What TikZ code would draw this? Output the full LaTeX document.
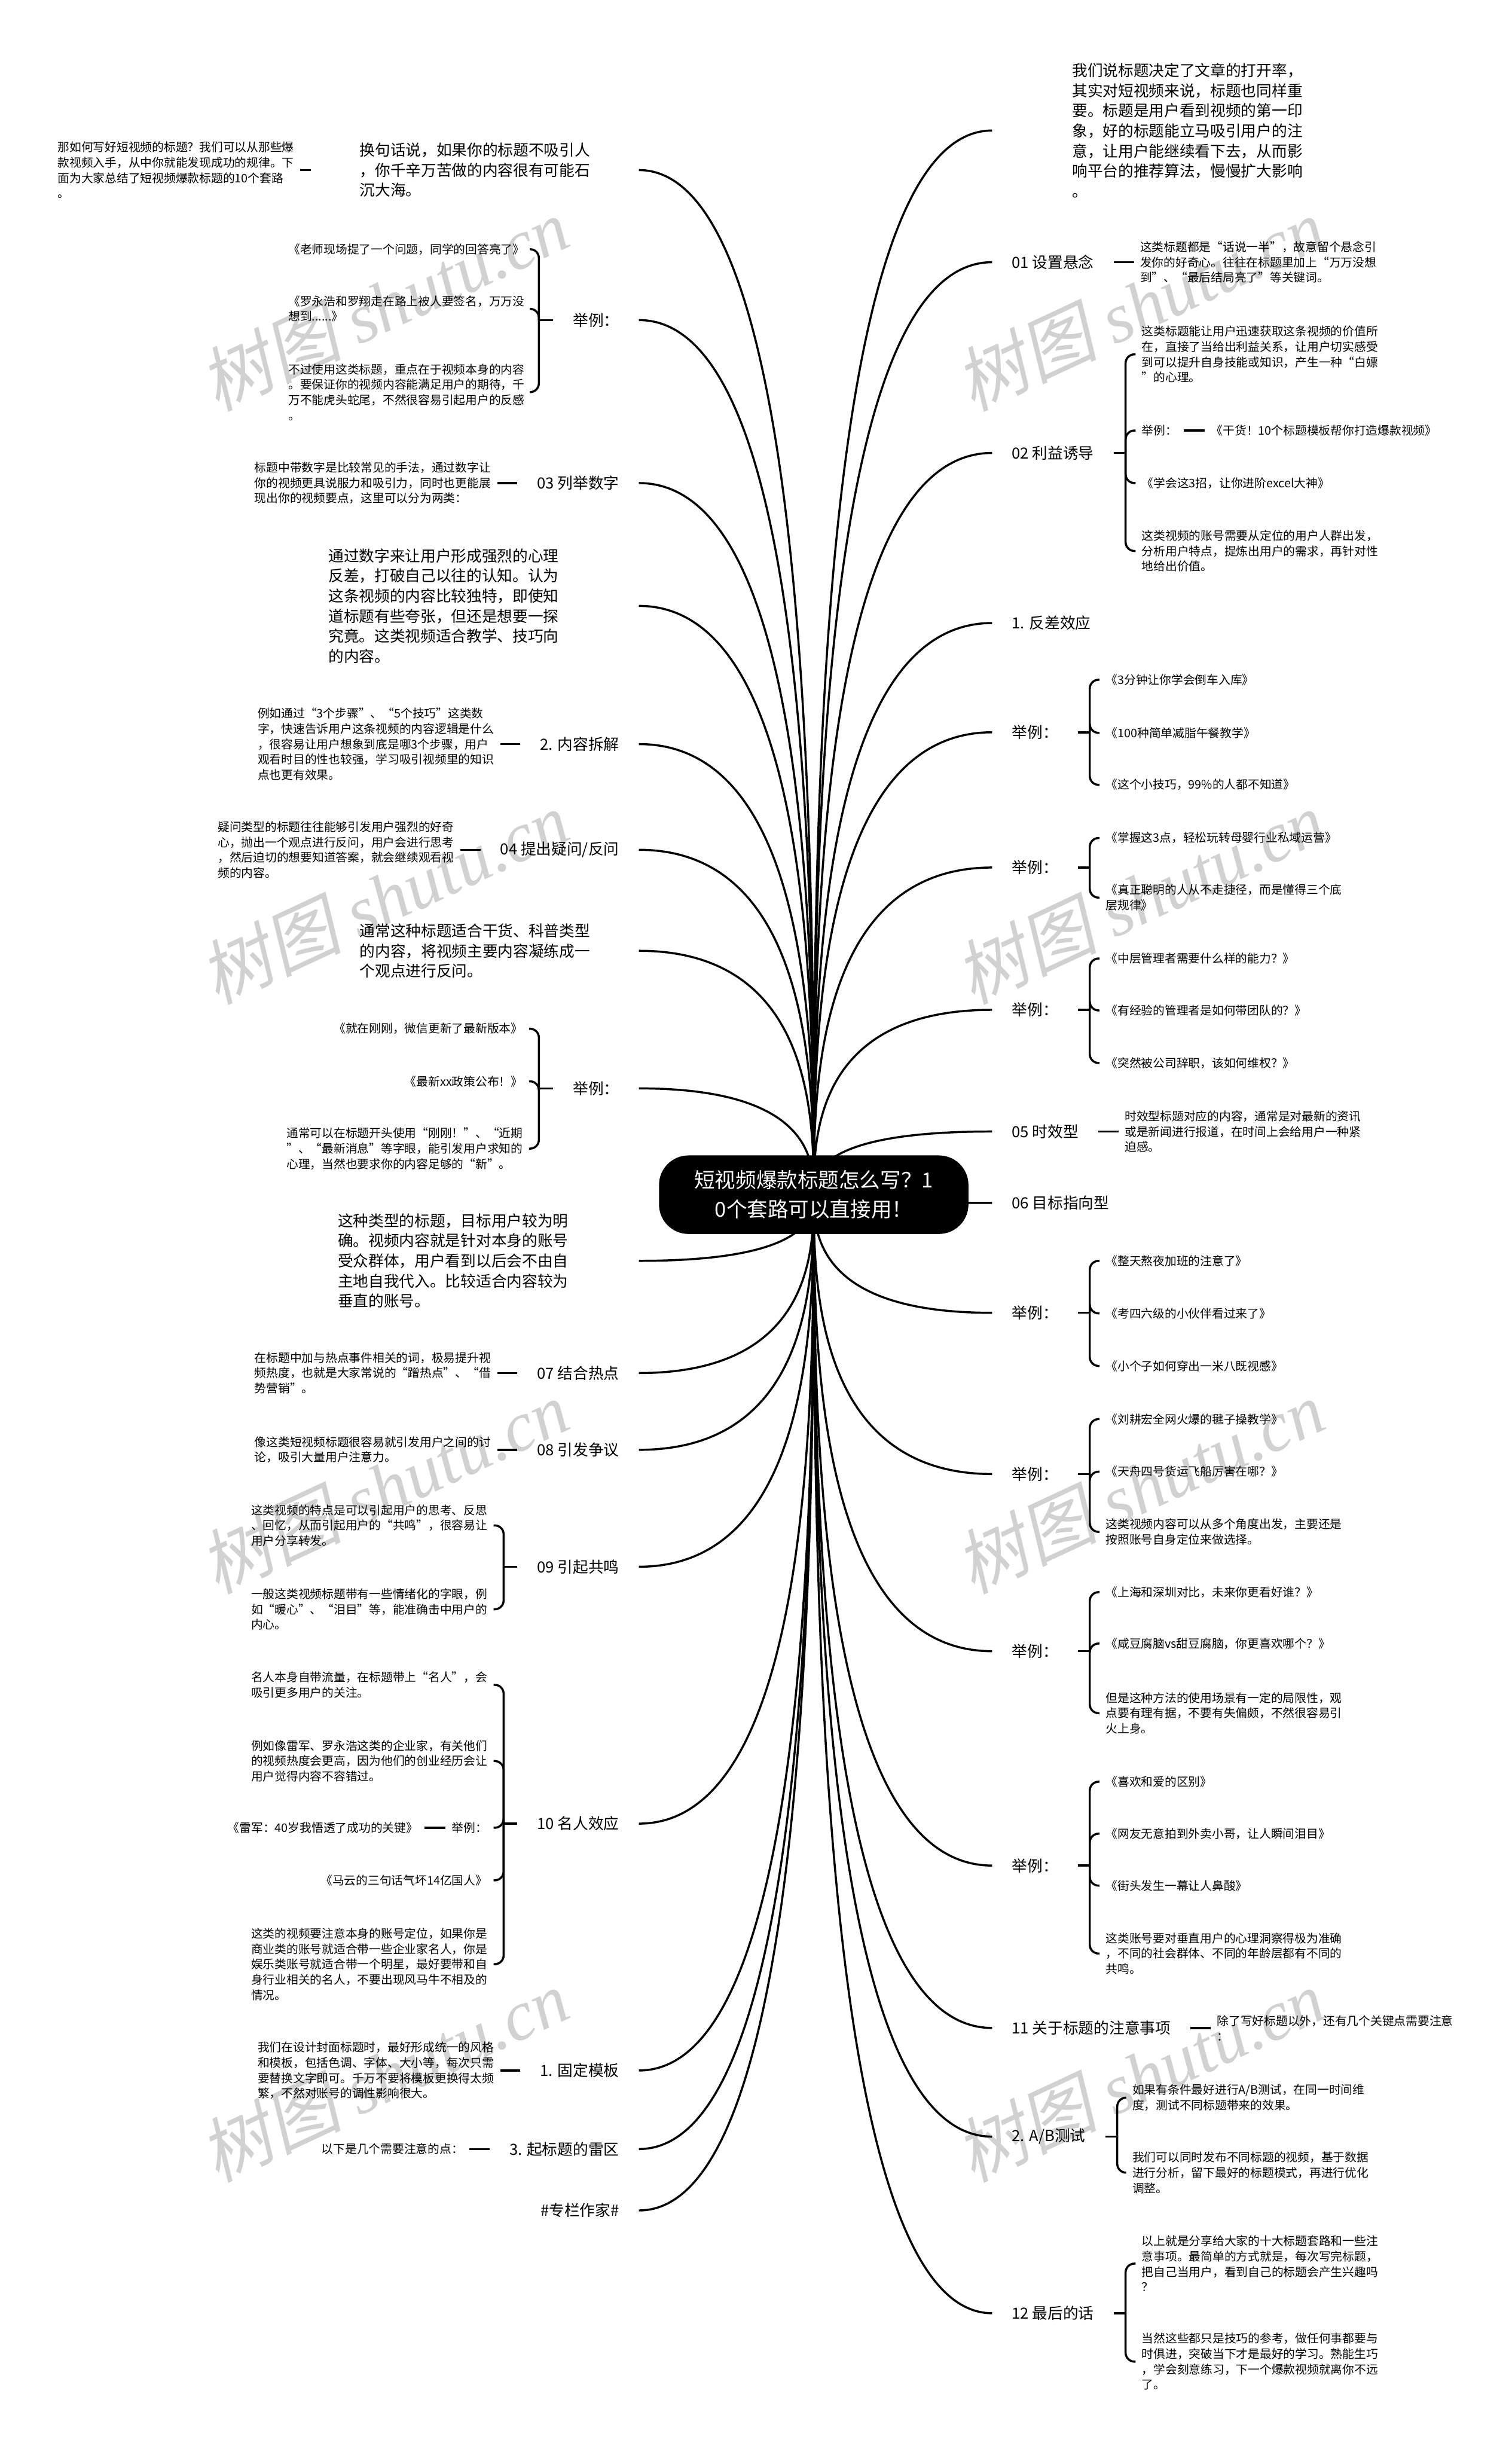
\documentclass[tikz,border=0pt]{standalone}
\usepackage{fontspec}
\setmainfont{Noto Sans CJK SC}
\newfontfamily\wmfont{Liberation Serif}
\newfontfamily\wmcjk[FakeSlant=0.2]{Noto Sans CJK SC}
\usetikzlibrary{positioning,calc,backgrounds}

\tikzset{
  hub/.style={fill=black, text=white, rounded corners=0.5cm, minimum width=5.24cm,
    minimum height=1.33cm, align=center, font=\fontsize{9.96pt}{14.2pt}\selectfont},
  topic/.style={inner xsep=0.33cm, inner ysep=0.05cm, align=left,
    font=\fontsize{7.4pt}{9.68pt}\selectfont},
  note/.style={inner xsep=0.1cm, inner ysep=0.05cm, align=left,
    font=\fontsize{5.69pt}{7.4pt}\selectfont},
  link/.style={line width=1pt},
  fork/.style={link, rounded corners=0.15cm},
  branch/.style={to path={.. controls ($(\tikztostart)!0.3!(\tikztostart|-\tikztotarget)$)
    and (\tikztostart|-\tikztotarget) .. (\tikztotarget)}},
  wm/.style={text=black!18, rotate=25, font=\fontsize{34pt}{34pt}\selectfont}
}

\begin{document}
\begin{tikzpicture}
  \useasboundingbox (0,0) rectangle (25.60,-41.47);

  % centre
  \node[hub] (hub) at (13.78,-20.23) {短视频爆款标题怎么写？1\\0个套路可以直接用！};

  % right side
  \node[topic, inner xsep=1.35cm, anchor=west] (r0) at (16.80,-2.21) {我们说标题决定了文章的打开率，\\其实对短视频来说，标题也同样重\\要。标题是用户看到视频的第一印\\象，好的标题能立马吸引用户的注\\意，让用户能继续看下去，从而影\\响平台的推荐算法，慢慢扩大影响\\。};
  \node[topic, anchor=west] (r1) at (16.80,-4.44) {01 设置悬念};
  \node[note, right=3.4mm of r1] (r1a) {这类标题都是“话说一半”，故意留个悬念引\\发你的好奇心。往往在标题里加上“万万没想\\到”、“最后结局亮了”等关键词。};

  \node[topic, anchor=west] (r2) at (16.80,-7.67) {02 利益诱导};
  \coordinate[right=2mm of r2] (j2);
  \node[note, anchor=west] (r2a) at (19.23,-6.00) {这类标题能让用户迅速获取这条视频的价值所\\在，直接了当给出利益关系，让用户切实感受\\到可以提升自身技能或知识，产生一种“白嫖\\”的心理。};
  \node[note, anchor=west] (r2b) at (19.23,-7.29) {举例：};
  \node[note, right=3.6mm of r2b] (r2c) {《干货！10个标题模板帮你打造爆款视频》};
  \node[note, anchor=west] (r2d) at (19.23,-8.18) {《学会这3招，让你进阶excel大神》};
  \node[note, anchor=west] (r2e) at (19.23,-9.33) {这类视频的账号需要从定位的用户人群出发，\\分析用户特点，提炼出用户的需求，再针对性\\地给出价值。};

  \node[topic, anchor=west] (r3) at (16.80,-10.55) {1. 反差效应};

  \node[topic, anchor=west] (r4) at (16.80,-12.40) {举例：};
  \coordinate[right=2mm of r4] (j4);
  \node[note, anchor=west] (r4a) at (18.62,-11.51) {《3分钟让你学会倒车入库》};
  \node[note, anchor=west] (r4b) at (18.62,-12.41) {《100种简单减脂午餐教学》};
  \node[note, anchor=west] (r4c) at (18.62,-13.29) {《这个小技巧，99\%的人都不知道》};

  \node[topic, anchor=west] (r5) at (16.80,-14.69) {举例：};
  \coordinate[right=2mm of r5] (j5);
  \node[note, anchor=west] (r5a) at (18.62,-14.19) {《掌握这3点，轻松玩转母婴行业私域运营》};
  \node[note, anchor=west] (r5b) at (18.62,-15.20) {《真正聪明的人从不走捷径，而是懂得三个底\\层规律》};

  \node[topic, anchor=west] (r6) at (16.80,-17.10) {举例：};
  \coordinate[right=2mm of r6] (j6);
  \node[note, anchor=west] (r6a) at (18.62,-16.23) {《中层管理者需要什么样的能力？》};
  \node[note, anchor=west] (r6b) at (18.62,-17.11) {《有经验的管理者是如何带团队的？》};
  \node[note, anchor=west] (r6c) at (18.62,-18.00) {《突然被公司辞职，该如何维权？》};

  \node[topic, anchor=west] (r7) at (16.80,-19.16) {05 时效型};
  \node[note, right=3.4mm of r7] (r7a) {时效型标题对应的内容，通常是对最新的资讯\\或是新闻进行报道，在时间上会给用户一种紧\\迫感。};

  \node[topic, anchor=west] (r8) at (16.80,-20.37) {06 目标指向型};

  \node[topic, anchor=west] (r9) at (16.80,-22.23) {举例：};
  \coordinate[right=2mm of r9] (j9);
  \node[note, anchor=west] (r9a) at (18.62,-21.35) {《整天熬夜加班的注意了》};
  \node[note, anchor=west] (r9b) at (18.62,-22.24) {《考四六级的小伙伴看过来了》};
  \node[note, anchor=west] (r9c) at (18.62,-23.13) {《小个子如何穿出一米八既视感》};

  \node[topic, anchor=west] (r10) at (16.80,-24.96) {举例：};
  \coordinate[right=2mm of r10] (j10);
  \node[note, anchor=west] (r10a) at (18.62,-24.03) {《刘耕宏全网火爆的毽子操教学》};
  \node[note, anchor=west] (r10b) at (18.62,-24.92) {《天舟四号货运飞船厉害在哪？》};
  \node[note, anchor=west] (r10c) at (18.62,-25.94) {这类视频内容可以从多个角度出发，主要还是\\按照账号自身定位来做选择。};

  \node[topic, anchor=west] (r11) at (16.80,-27.96) {举例：};
  \coordinate[right=2mm of r11] (j11);
  \node[note, anchor=west] (r11a) at (18.62,-26.96) {《上海和深圳对比，未来你更看好谁？》};
  \node[note, anchor=west] (r11b) at (18.62,-27.83) {《咸豆腐脑vs甜豆腐脑，你更喜欢哪个？》};
  \node[note, anchor=west] (r11c) at (18.62,-29.01) {但是这种方法的使用场景有一定的局限性，观\\点要有理有据，不要有失偏颇，不然很容易引\\火上身。};

  \node[topic, anchor=west] (r12) at (16.80,-31.59) {举例：};
  \coordinate[right=2mm of r12] (j12);
  \node[note, anchor=west] (r12a) at (18.62,-30.17) {《喜欢和爱的区别》};
  \node[note, anchor=west] (r12b) at (18.62,-31.05) {《网友无意拍到外卖小哥，让人瞬间泪目》};
  \node[note, anchor=west] (r12c) at (18.62,-31.93) {《街头发生一幕让人鼻酸》};
  \node[note, anchor=west] (r12d) at (18.62,-33.08) {这类账号要对垂直用户的心理洞察得极为准确\\，不同的社会群体、不同的年龄层都有不同的\\共鸣。};

  \node[topic, anchor=west] (r13) at (16.80,-34.34) {11 关于标题的注意事项};
  \node[note, right=3.4mm of r13] (r13a) {除了写好标题以外，还有几个关键点需要注意\\：};

  \node[topic, anchor=west] (r14) at (16.80,-36.18) {2. A/B测试};
  \coordinate[right=2mm of r14] (j14);
  \node[note, anchor=west] (r14a) at (19.07,-35.52) {如果有条件最好进行A/B测试，在同一时间维\\度，测试不同标题带来的效果。};
  \node[note, anchor=west] (r14b) at (19.07,-36.79) {我们可以同时发布不同标题的视频，基于数据\\进行分析，留下最好的标题模式，再进行优化\\调整。};

  \node[topic, anchor=west] (r15) at (16.80,-39.17) {12 最后的话};
  \coordinate[right=2mm of r15] (j15);
  \node[note, anchor=west] (r15a) at (19.23,-38.33) {以上就是分享给大家的十大标题套路和一些注\\意事项。最简单的方式就是，每次写完标题，\\把自己当用户，看到自己的标题会产生兴趣吗\\？};
  \node[note, anchor=west] (r15b) at (19.23,-39.99) {当然这些都只是技巧的参考，做任何事都要与\\时俱进，突破当下才是最好的学习。熟能生巧\\，学会刻意练习，下一个爆款视频就离你不远\\了。};

  % left side
  \node[topic, inner xsep=0.82cm, anchor=east] (l0) at (10.82,-2.88) {换句话说，如果你的标题不吸引人\\，你千辛万苦做的内容很有可能石\\沉大海。};
  \node[note, left=1.8mm of l0] (l0a) {那如何写好短视频的标题？我们可以从那些爆\\款视频入手，从中你就能发现成功的规律。下\\面为大家总结了短视频爆款标题的10个套路\\。};

  \node[topic, anchor=east] (l1) at (10.82,-5.42) {举例：};
  \coordinate[left=2.4mm of l1] (j1);
  \node[note, anchor=east] (l1a) at (8.99,-4.22) {《老师现场提了一个问题，同学的回答亮了》};
  \node[note, anchor=east] (l1b) at (8.99,-5.23) {《罗永浩和罗翔走在路上被人要签名，万万没\\想到......》};
  \node[note, anchor=east] (l1c) at (8.99,-6.64) {不过使用这类标题，重点在于视频本身的内容\\。要保证你的视频内容能满足用户的期待，千\\万不能虎头蛇尾，不然很容易引起用户的反感\\。};

  \node[topic, anchor=east] (l2) at (10.82,-8.18) {03 列举数字};
  \node[note, left=3.4mm of l2] (l2a) {标题中带数字是比较常见的手法，通过数字让\\你的视频更具说服力和吸引力，同时也更能展\\现出你的视频要点，这里可以分为两类：};

  \node[topic, inner xsep=1.35cm, anchor=east] (l3) at (10.82,-10.26) {通过数字来让用户形成强烈的心理\\反差，打破自己以往的认知。认为\\这条视频的内容比较独特，即使知\\道标题有些夸张，但还是想要一探\\究竟。这类视频适合教学、技巧向\\的内容。};

  \node[topic, anchor=east] (l4) at (10.82,-12.60) {2. 内容拆解};
  \node[note, left=3.4mm of l4] (l4a) {例如通过“3个步骤”、“5个技巧”这类数\\字，快速告诉用户这条视频的内容逻辑是什么\\，很容易让用户想象到底是哪3个步骤，用户\\观看时目的性也较强，学习吸引视频里的知识\\点也更有效果。};

  \node[topic, anchor=east] (l5) at (10.82,-14.39) {04 提出疑问/反问};
  \node[note, left=3.4mm of l5] (l5a) {疑问类型的标题往往能够引发用户强烈的好奇\\心，抛出一个观点进行反问，用户会进行思考\\，然后迫切的想要知道答案，就会继续观看视\\频的内容。};

  \node[topic, inner xsep=0.82cm, anchor=east] (l6) at (10.82,-16.10) {通常这种标题适合干货、科普类型\\的内容，将视频主要内容凝练成一\\个观点进行反问。};

  \node[topic, anchor=east] (l7) at (10.82,-18.43) {举例：};
  \coordinate[left=2.4mm of l7] (j7);
  \node[note, anchor=east] (l7a) at (8.96,-17.42) {《就在刚刚，微信更新了最新版本》};
  \node[note, anchor=east] (l7b) at (8.96,-18.31) {《最新xx政策公布！》};
  \node[note, anchor=east] (l7c) at (8.96,-19.45) {通常可以在标题开头使用“刚刚！”、“近期\\”、“最新消息”等字眼，能引发用户求知的\\心理，当然也要求你的内容足够的“新”。};

  \node[topic, inner xsep=1.19cm, anchor=east] (l8) at (10.82,-21.35) {这种类型的标题，目标用户较为明\\确。视频内容就是针对本身的账号\\受众群体，用户看到以后会不由自\\主地自我代入。比较适合内容较为\\垂直的账号。};

  \node[topic, anchor=east] (l9) at (10.82,-23.25) {07 结合热点};
  \node[note, left=3.4mm of l9] (l9a) {在标题中加与热点事件相关的词，极易提升视\\频热度，也就是大家常说的“蹭热点”、“借\\势营销”。};

  \node[topic, anchor=east] (l10) at (10.82,-24.55) {08 引发争议};
  \node[note, left=3.4mm of l10] (l10a) {像这类短视频标题很容易就引发用户之间的讨\\论，吸引大量用户注意力。};

  \node[topic, anchor=east] (l11) at (10.82,-26.53) {09 引起共鸣};
  \coordinate[left=2.3mm of l11] (j11l);
  \node[note, anchor=east] (l11a) at (8.36,-25.83) {这类视频的特点是可以引起用户的思考、反思\\、回忆，从而引起用户的“共鸣”，很容易让\\用户分享转发。};
  \node[note, anchor=east] (l11b) at (8.36,-27.25) {一般这类视频标题带有一些情绪化的字眼，例\\如“暖心”、“泪目”等，能准确击中用户的\\内心。};

  \node[topic, anchor=east] (l12) at (10.82,-30.88) {10 名人效应};
  \coordinate[left=2.3mm of l12] (j12l);
  \node[note, anchor=east] (l12a) at (8.36,-28.53) {名人本身自带流量，在标题带上“名人”，会\\吸引更多用户的关注。};
  \node[note, anchor=east] (l12b) at (8.36,-29.82) {例如像雷军、罗永浩这类的企业家，有关他们\\的视频热度会更高，因为他们的创业经历会让\\用户觉得内容不容错过。};
  \node[note, anchor=east] (l12c) at (8.36,-30.95) {举例：};
  \node[note, left=3.6mm of l12c] (l12d) {《雷军：40岁我悟透了成功的关键》};
  \node[note, anchor=east] (l12e) at (8.36,-31.84) {《马云的三句话气坏14亿国人》};
  \node[note, anchor=east] (l12f) at (8.36,-33.26) {这类的视频要注意本身的账号定位，如果你是\\商业类的账号就适合带一些企业家名人，你是\\娱乐类账号就适合带一个明星，最好要带和自\\身行业相关的名人，不要出现风马牛不相及的\\情况。};

  \node[topic, anchor=east] (l13) at (10.82,-35.06) {1. 固定模板};
  \node[note, left=3.4mm of l13] (l13a) {我们在设计封面标题时，最好形成统一的风格\\和模板，包括色调、字体、大小等，每次只需\\要替换文字即可。千万不要将模板更换得太频\\繁，不然对账号的调性影响很大。};

  \node[topic, anchor=east] (l14) at (10.82,-36.39) {3. 起标题的雷区};
  \node[note, left=3.4mm of l14] (l14a) {以下是几个需要注意的点：};

  \node[topic, anchor=east] (l15) at (10.82,-37.43) {\#专栏作家\#};

  \begin{scope}[on background layer]
    \fill[white] (0,0) rectangle (25.60,-41.47);
    % watermark
    \node[wm] (wm1) at (6.50,-5.15) {{\wmcjk 树图} {\wmfont\itshape shutu.cn}};
    \node[wm] (wm2) at (6.50,-15.19) {{\wmcjk 树图} {\wmfont\itshape shutu.cn}};
    \node[wm] (wm3) at (6.50,-25.17) {{\wmcjk 树图} {\wmfont\itshape shutu.cn}};
    \node[wm] (wm4) at (6.50,-35.14) {{\wmcjk 树图} {\wmfont\itshape shutu.cn}};
    \node[wm] (wm5) at (19.30,-5.15) {{\wmcjk 树图} {\wmfont\itshape shutu.cn}};
    \node[wm] (wm6) at (19.30,-15.19) {{\wmcjk 树图} {\wmfont\itshape shutu.cn}};
    \node[wm] (wm7) at (19.30,-25.17) {{\wmcjk 树图} {\wmfont\itshape shutu.cn}};
    \node[wm] (wm8) at (19.30,-35.14) {{\wmcjk 树图} {\wmfont\itshape shutu.cn}};

    % main branches
    \draw[link] (hub.center) to[branch] (r0.west);
    \draw[link] (hub.center) to[branch] (r1.west);
    \draw[link] (hub.center) to[branch] (r2.west);
    \draw[link] (hub.center) to[branch] (r3.west);
    \draw[link] (hub.center) to[branch] (r4.west);
    \draw[link] (hub.center) to[branch] (r5.west);
    \draw[link] (hub.center) to[branch] (r6.west);
    \draw[link] (hub.center) to[branch] (r7.west);
    \draw[link] (hub.center) to[branch] (r8.west);
    \draw[link] (hub.center) to[branch] (r9.west);
    \draw[link] (hub.center) to[branch] (r10.west);
    \draw[link] (hub.center) to[branch] (r11.west);
    \draw[link] (hub.center) to[branch] (r12.west);
    \draw[link] (hub.center) to[branch] (r13.west);
    \draw[link] (hub.center) to[branch] (r14.west);
    \draw[link] (hub.center) to[branch] (r15.west);
    \draw[link] (hub.center) to[branch] (l0.east);
    \draw[link] (hub.center) to[branch] (l1.east);
    \draw[link] (hub.center) to[branch] (l2.east);
    \draw[link] (hub.center) to[branch] (l3.east);
    \draw[link] (hub.center) to[branch] (l4.east);
    \draw[link] (hub.center) to[branch] (l5.east);
    \draw[link] (hub.center) to[branch] (l6.east);
    \draw[link] (hub.center) to[branch] (l7.east);
    \draw[link] (hub.center) to[branch] (l8.east);
    \draw[link] (hub.center) to[branch] (l9.east);
    \draw[link] (hub.center) to[branch] (l10.east);
    \draw[link] (hub.center) to[branch] (l11.east);
    \draw[link] (hub.center) to[branch] (l12.east);
    \draw[link] (hub.center) to[branch] (l13.east);
    \draw[link] (hub.center) to[branch] (l14.east);
    \draw[link] (hub.center) to[branch] (l15.east);

    % single children
    \draw[link] (r1.east) -- (r1a.west);
    \draw[link] (r7.east) -- (r7a.west);
    \draw[link] (r13.east) -- (r13a.west);
    \draw[link] (r2b.east) -- (r2c.west);
    \draw[link] (l0.west) -- (l0a.east);
    \draw[link] (l2.west) -- (l2a.east);
    \draw[link] (l4.west) -- (l4a.east);
    \draw[link] (l5.west) -- (l5a.east);
    \draw[link] (l9.west) -- (l9a.east);
    \draw[link] (l10.west) -- (l10a.east);
    \draw[link] (l13.west) -- (l13a.east);
    \draw[link] (l14.west) -- (l14a.east);
    \draw[link] (l12c.west) -- (l12d.east);

    % brackets, right
    \draw[link] (r2.east) -- (j2);
    \draw[fork] (j2) |- (r2a.west);
    \draw[fork] (j2) |- (r2b.west);
    \draw[fork] (j2) |- (r2d.west);
    \draw[fork] (j2) |- (r2e.west);
    \draw[link] (r4.east) -- (j4);
    \draw[fork] (j4) |- (r4a.west);
    \draw[fork] (j4) |- (r4b.west);
    \draw[fork] (j4) |- (r4c.west);
    \draw[link] (r5.east) -- (j5);
    \draw[fork] (j5) |- (r5a.west);
    \draw[fork] (j5) |- (r5b.west);
    \draw[link] (r6.east) -- (j6);
    \draw[fork] (j6) |- (r6a.west);
    \draw[fork] (j6) |- (r6b.west);
    \draw[fork] (j6) |- (r6c.west);
    \draw[link] (r9.east) -- (j9);
    \draw[fork] (j9) |- (r9a.west);
    \draw[fork] (j9) |- (r9b.west);
    \draw[fork] (j9) |- (r9c.west);
    \draw[link] (r10.east) -- (j10);
    \draw[fork] (j10) |- (r10a.west);
    \draw[fork] (j10) |- (r10b.west);
    \draw[fork] (j10) |- (r10c.west);
    \draw[link] (r11.east) -- (j11);
    \draw[fork] (j11) |- (r11a.west);
    \draw[fork] (j11) |- (r11b.west);
    \draw[fork] (j11) |- (r11c.west);
    \draw[link] (r12.east) -- (j12);
    \draw[fork] (j12) |- (r12a.west);
    \draw[fork] (j12) |- (r12b.west);
    \draw[fork] (j12) |- (r12c.west);
    \draw[fork] (j12) |- (r12d.west);
    \draw[link] (r14.east) -- (j14);
    \draw[fork] (j14) |- (r14a.west);
    \draw[fork] (j14) |- (r14b.west);
    \draw[link] (r15.east) -- (j15);
    \draw[fork] (j15) |- (r15a.west);
    \draw[fork] (j15) |- (r15b.west);

    % brackets, left
    \draw[link] (l1.west) -- (j1);
    \draw[fork] (j1) |- (l1a.east);
    \draw[fork] (j1) |- (l1b.east);
    \draw[fork] (j1) |- (l1c.east);
    \draw[link] (l7.west) -- (j7);
    \draw[fork] (j7) |- (l7a.east);
    \draw[fork] (j7) |- (l7b.east);
    \draw[fork] (j7) |- (l7c.east);
    \draw[link] (l11.west) -- (j11l);
    \draw[fork] (j11l) |- (l11a.east);
    \draw[fork] (j11l) |- (l11b.east);
    \draw[link] (l12.west) -- (j12l);
    \draw[fork] (j12l) |- (l12a.east);
    \draw[fork] (j12l) |- (l12b.east);
    \draw[fork] (j12l) |- (l12c.east);
    \draw[fork] (j12l) |- (l12e.east);
    \draw[fork] (j12l) |- (l12f.east);
  \end{scope}
\end{tikzpicture}
\end{document}
